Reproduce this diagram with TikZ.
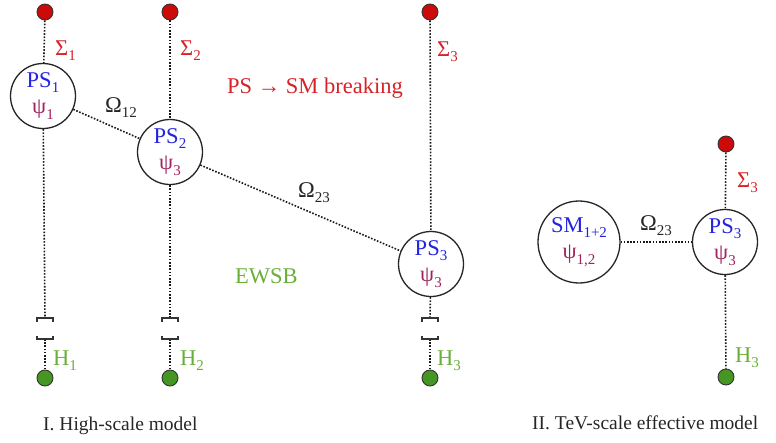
\documentclass[tikz,border=0pt]{standalone}
\usepackage{fontspec}
\setmainfont{Liberation Serif}
\definecolor{dotred}{RGB}{205,10,10}
\definecolor{lblred}{RGB}{215,35,40}
\definecolor{psblue}{RGB}{35,35,225}
\definecolor{psipurple}{RGB}{160,35,95}
\definecolor{hgreen}{RGB}{105,175,55}
\definecolor{dotgreen}{RGB}{70,150,35}
\newcommand\sbs[1]{\raisebox{-5.5pt}{\fontsize{15}{15}\selectfont #1}}
\newcommand\pstext[3]{{\color{psblue}#1\sbs{#2}}\\{\color{psipurple}ψ\sbs{#3}}}
\tikzset{
  dotline/.style={draw=black!90, line width=1.6pt, dash pattern=on 1.6pt off 1.6pt},
  brk/.style={draw=black!80, line width=1.1pt},
  psnode/.style={circle, draw=black!85, line width=1.3pt, fill=white, minimum size=65pt,
    inner sep=0pt, align=center, font=\fontsize{22.5}{26.5}\selectfont},
  reddot/.style={circle, fill=dotred, draw=black!80, line width=0.9pt, minimum size=16pt, inner sep=0pt},
  greendot/.style={circle, fill=dotgreen, draw=black!80, line width=0.9pt, minimum size=16pt, inner sep=0pt},
  lbl/.style={anchor=base west, inner sep=0pt, font=\fontsize{22.5}{26}\selectfont},
  captext/.style={anchor=base west, inner sep=0pt, font=\fontsize{19.5}{22}\selectfont, text=black!85},
}
\begin{document}
\begin{tikzpicture}[x=1pt,y=-1pt]
\useasboundingbox (0,0) rectangle (776,442);
% column 1
\node[reddot] (r1) at (45,12) {};
\node[psnode] (p1) at (43,96) {\pstext{PS}{1}{1}};
\coordinate (b1t) at (45,318);
\coordinate (b1b) at (45,339);
\node[greendot] (g1) at (45,378) {};
% column 2
\node[reddot] (r2) at (170,12) {};
\node[psnode] (p2) at (170,152) {\pstext{PS}{2}{3}};
\coordinate (b2t) at (170,318);
\coordinate (b2b) at (170,339);
\node[greendot] (g2) at (170,378) {};
% column 3
\node[reddot] (r3) at (430,12) {};
\node[psnode] (p3) at (431,264) {\pstext{PS}{3}{3}};
\coordinate (b3t) at (430,318);
\coordinate (b3b) at (430,339);
\node[greendot] (g3) at (430,378) {};
% right model
\node[psnode, minimum size=82pt] (sm) at (579,242) {\pstext{SM}{1+2}{1,2}};
\node[reddot] (r4) at (726,144) {};
\node[psnode] (p4) at (725,242) {\pstext{PS}{3}{3}};
\node[greendot] (g4) at (726,377) {};
% vertical lines
\foreach \i in {1,2,3}{
  \draw[dotline] (r\i) -- (p\i);
  \draw[dotline] (p\i) -- (b\i t);
  \draw[dotline] (b\i b) -- (g\i);
  \draw[brk] ([shift={(-8,3.5)}]b\i t) -- ([shift={(-8,0)}]b\i t) -- ([shift={(8,0)}]b\i t) -- ([shift={(8,3.5)}]b\i t);
  \draw[brk] ([shift={(-8,-3.5)}]b\i b) -- ([shift={(-8,0)}]b\i b) -- ([shift={(8,0)}]b\i b) -- ([shift={(8,-3.5)}]b\i b);
}
\draw[dotline] (r4) -- (p4);
\draw[dotline] (p4) -- (g4);
% mixing lines
\draw[dotline] (p1) -- (p2);
\draw[dotline] (p2) -- (p3);
\draw[dotline] (sm) -- (p4);
% labels
\node[lbl, text=lblred] (s1) at (55,55) {Σ\sbs{1}};
\node[lbl, text=lblred] (s2) at (180,55) {Σ\sbs{2}};
\node[lbl, text=lblred] (s3) at (437,56) {Σ\sbs{3}};
\node[lbl, text=lblred] (s4) at (737,187) {Σ\sbs{3}};
\node[lbl, text=hgreen] (h1) at (53,365) {H\sbs{1}};
\node[lbl, text=hgreen] (h2) at (180,365) {H\sbs{2}};
\node[lbl, text=hgreen] (h3) at (437,365) {H\sbs{3}};
\node[lbl, text=hgreen] (h4) at (735,362) {H\sbs{3}};
\node[lbl, text=black!85] (o12) at (105,112) {Ω\sbs{12}};
\node[lbl, text=black!85] (o23) at (298,197) {Ω\sbs{23}};
\node[lbl, text=black!85] (o23r) at (640,230) {Ω\sbs{23}};
\node[lbl, text=lblred] (brk) at (227,93) {PS → SM breaking};
\node[lbl, text=hgreen] (ewsb) at (235,283) {EWSB};
\node[captext] (c1) at (43,430) {I. High-scale model};
\node[captext] (c2) at (532,429) {II. TeV-scale effective model};
\end{tikzpicture}
\end{document}
